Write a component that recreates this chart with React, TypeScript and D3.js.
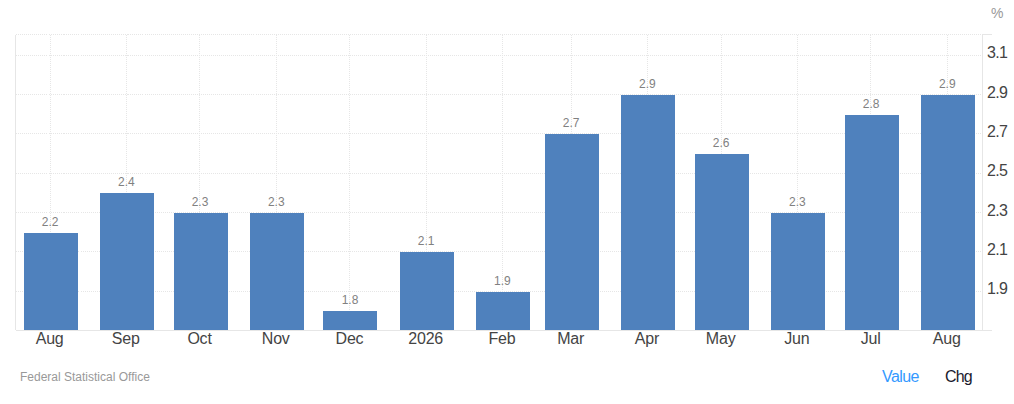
import { useEffect, useRef } from "react";
import * as d3 from "d3";

const months = ["2025-08-01", "2025-09-01", "2025-10-01", "2025-11-01", "2025-12-01", "2026-01-01", "2026-02-01", "2026-03-01", "2026-04-01", "2026-05-01", "2026-06-01", "2026-07-01", "2026-08-01"];
const monthLabels = ["Aug", "Sep", "Oct", "Nov", "Dec", "2026", "Feb", "Mar", "Apr", "May", "Jun", "Jul", "Aug"];
const values = [2.2, 2.4, 2.3, 2.3, 1.8, 2.1, 1.9, 2.7, 2.9, 2.6, 2.3, 2.8, 2.9];
const yTicks = [1.9, 2.1, 2.3, 2.5, 2.7, 2.9, 3.1];

const width = 1014;
const height = 404;
const font = "'Liberation Sans', Arial, sans-serif";
const gridColor = "#e6e6e6";
const axisColor = "#e6e6e6";
const barColor = "#4f81bd";

const App = () => {
  const svgRef = useRef<SVGSVGElement | null>(null);

  useEffect(() => {
    const svg = d3.select(svgRef.current);
    svg.selectAll("*").remove();
    svg.style("font-family", font);

    const dates = months.map((m) => new Date(m + "T00:00:00Z"));
    const x = d3.scaleUtc()
      .domain([dates[0], dates[dates.length - 1]])
      .range([50.6, 947.77]);
    const y = d3.scaleLinear()
      .domain([1.8, 3.1])
      .range([311.2, 55.88]);

    const plotLeft = 15.5;
    const plotRight = 982.5;
    const plotTop = 34.5;
    const plotBottom = 330;
    const barWidth = 54;

    // dotted grid
    const grid = svg.append("g")
      .attr("stroke", gridColor)
      .attr("stroke-width", 1)
      .attr("stroke-dasharray", "1,1")
      .attr("shape-rendering", "crispEdges");

    grid.selectAll("line.h")
      .data(yTicks)
      .enter()
      .append("line")
      .attr("x1", plotLeft)
      .attr("x2", plotRight)
      .attr("y1", (d) => Math.floor(y(d) - 0.5) + 0.5)
      .attr("y2", (d) => Math.floor(y(d) - 0.5) + 0.5);

    grid.append("line")
      .attr("x1", plotLeft)
      .attr("x2", plotRight)
      .attr("y1", plotTop)
      .attr("y2", plotTop);

    grid.selectAll("line.v")
      .data(dates)
      .enter()
      .append("line")
      .attr("x1", (d) => Math.floor(x(d) - 0.6) + 0.5)
      .attr("x2", (d) => Math.floor(x(d) - 0.6) + 0.5)
      .attr("y1", plotTop)
      .attr("y2", plotBottom);

    // bars
    svg.append("g")
      .selectAll("rect")
      .data(values)
      .enter()
      .append("rect")
      .attr("x", (_, i) => Math.round(x(dates[i]) - barWidth / 2))
      .attr("y", (d) => Math.round(y(d)))
      .attr("width", barWidth)
      .attr("height", (d) => plotBottom - Math.round(y(d)))
      .attr("fill", barColor);

    // value labels
    svg.append("g")
      .style("opacity", 0.99)
      .selectAll("text")
      .data(values)
      .enter()
      .append("text")
      .attr("x", (_, i) => x(dates[i]) - 0.5)
      .attr("y", (d) => Math.round(y(d)) - 7)
      .attr("text-anchor", "middle")
      .attr("font-size", 12)
      .attr("fill", "#7f7f7f")
      .text((d) => d.toFixed(1));

    // axis lines
    const axes = svg.append("g")
      .attr("stroke", axisColor)
      .attr("shape-rendering", "crispEdges");
    axes.append("line").attr("x1", plotLeft).attr("x2", plotLeft).attr("y1", plotTop).attr("y2", plotBottom);
    axes.append("line").attr("x1", plotRight).attr("x2", plotRight).attr("y1", plotTop).attr("y2", plotBottom);
    axes.append("line").attr("x1", plotLeft).attr("x2", 992).attr("y1", plotBottom + 0.5).attr("y2", plotBottom + 0.5);
    axes.append("line").attr("x1", plotRight).attr("x2", 992).attr("y1", plotTop).attr("y2", plotTop);

    // month labels
    svg.append("g")
      .selectAll("text")
      .data(monthLabels)
      .enter()
      .append("text")
      .attr("x", (_, i) => x(dates[i]) - 1)
      .attr("y", 344)
      .attr("text-anchor", "middle")
      .attr("font-size", 16)
      .attr("letter-spacing", -0.2)
      .attr("fill", "#444444")
      .text((d) => d);

    // y tick labels
    svg.append("g")
      .selectAll("text")
      .data(yTicks)
      .enter()
      .append("text")
      .attr("x", 987)
      .attr("y", (d) => y(d) + 2.5)
      .attr("font-size", 16)
      .attr("letter-spacing", -0.7)
      .attr("fill", "#444444")
      .text((d) => d.toFixed(1));

    svg.append("text")
      .attr("x", 991)
      .attr("y", 18)
      .attr("font-size", 14)
      .attr("fill", "#999999")
      .text("%");

    svg.append("text")
      .attr("x", 20)
      .attr("y", 381)
      .attr("font-size", 12)
      .attr("fill", "#999999")
      .text("Federal Statistical Office");

    svg.append("text")
      .attr("x", 882)
      .attr("y", 382)
      .attr("font-size", 16)
      .attr("letter-spacing", -0.6)
      .attr("fill", "#3399ff")
      .text("Value");

    svg.append("text")
      .attr("x", 945)
      .attr("y", 382)
      .attr("font-size", 16)
      .attr("letter-spacing", -0.8)
      .attr("fill", "#1a1a2e")
      .text("Chg");
  }, []);

  return (
    <svg
      ref={svgRef}
      width={width}
      height={height}
      style={{ position: "absolute", left: 0, top: 0, background: "#fff" }}
    ></svg>
  );
};

export default App;
